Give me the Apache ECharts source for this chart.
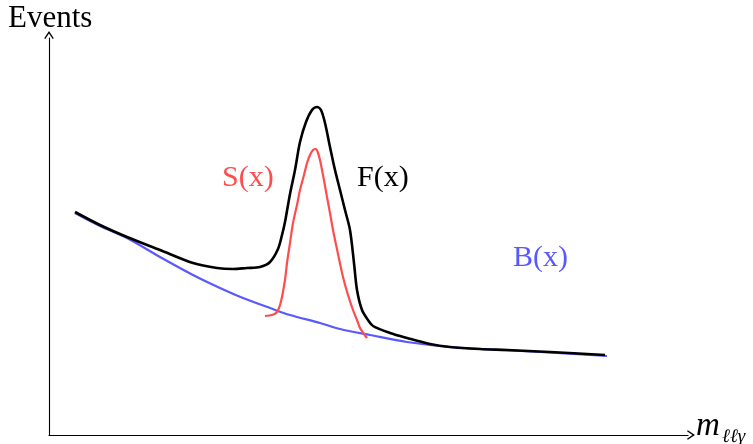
<!DOCTYPE html>
<html>
<head>
<meta charset="utf-8">
<script src="https://cdn.jsdelivr.net/npm/echarts@6/dist/echarts.min.js"></script>
<style>
  html, body { margin: 0; padding: 0; background: #fff; }
  #chart { width: 753px; height: 444px; }
</style>
</head>
<body>
<div id="chart"></div>
<script>
// F(x): full fit = background + signal
const fitX = [2.6, 5.1, 7.8, 11.1, 14.4, 16.8, 18.4, 19.8, 21.1, 22.1, 22.9, 23.3, 23.6, 24.1, 24.6, 25.1, 25.7, 26.3, 26.8, 27.2, 27.6, 28.1, 28.6, 29.1, 29.6, 30.1, 30.5, 30.8, 31.3, 31.9, 32.4, 34.1, 35.8, 38.1, 40.1, 43.1, 45.8, 50.1, 55.6]
const fitY = [22.3, 21.0, 19.8, 18.5, 17.2, 16.7, 16.6, 16.7, 16.8, 17.3, 18.6, 20.0, 21.3, 24.1, 26.5, 29.3, 31.3, 32.5, 32.8, 32.5, 31.2, 28.8, 26.5, 24.5, 22.5, 20.5, 17.2, 14.5, 12.5, 11.5, 10.9, 10.2, 9.7, 9.1, 8.8, 8.6, 8.5, 8.3, 8.0]

// S(x): signal peak
const sigX = [21.6, 22.3, 22.8, 23.1, 23.3, 23.6, 23.8, 24.1, 24.4, 24.8, 25.1, 25.5, 25.8, 26.1, 26.4, 26.7, 26.9, 27.1, 27.4, 27.8, 28.1, 28.4, 28.9, 29.4, 29.9, 30.4, 30.8, 31.1, 31.5, 31.8]
const sigY = [11.9, 12.0, 12.3, 13.0, 13.8, 15.5, 17.2, 19.2, 21.2, 23.0, 24.5, 26.0, 27.2, 28.0, 28.5, 28.6, 28.2, 27.5, 26.0, 23.8, 22.2, 20.5, 18.1, 15.8, 14.0, 12.5, 11.5, 10.7, 10.1, 9.7]

// B(x): falling background
const bkgX = [2.6, 5.1, 7.8, 11.1, 14.4, 17.1, 19.4, 22.1, 24.1, 27.1, 29.1, 32.1, 35.8, 40.1, 45.1, 49.1, 55.8]
const bkgY = [22.2, 20.9, 19.7, 17.8, 16.0, 14.7, 13.7, 12.7, 12.0, 11.2, 10.6, 10.0, 9.3, 8.8, 8.5, 8.3, 7.9]

const xMax = 63.9
const yMax = 39.7

const zip = (xs, ys) => xs.map((x, i) => [x, ys[i]])

const serif = '"Liberation Serif", "DejaVu Serif", serif'
// open chevron, like the tikz "->" tip
const arrowHead = 'path://M0,9 L6,0 L12,9 L10.6,10 L6,3.2 L1.4,10 Z'

const chart = echarts.init(document.getElementById('chart'))

const axisCommon = {
  type: 'value',
  min: 0,
  axisLabel: { show: false },
  axisTick: { show: false },
  splitLine: { show: false },
  axisLine: {
    show: true,
    symbol: ['none', arrowHead],
    symbolSize: [12, 8],
    symbolOffset: [0, 3],
    lineStyle: { color: '#000', width: 1.1 }
  }
}

const lineSeries = (name, xs, ys, color, width) => ({
  name,
  type: 'line',
  data: zip(xs, ys),
  smooth: 0.3,
  showSymbol: false,
  lineStyle: { color, width }
})

chart.setOption({
  animation: false,
  grid: { left: 49, top: 38, width: 639, height: 397 },
  xAxis: Object.assign({}, axisCommon, { max: xMax }),
  yAxis: Object.assign({}, axisCommon, { max: yMax }),
  series: [
    lineSeries('B(x)', bkgX, bkgY, '#5959ff', 2.2),
    lineSeries('S(x)', sigX, sigY, '#ff4d4d', 2.2),
    lineSeries('F(x)', fitX, fitY, '#000', 2.6)
  ],
  graphic: [
    { type: 'text', left: 8, top: 3, style: { text: 'Events', font: '31px ' + serif, fill: '#000' } },
    { type: 'text', left: 696, top: 410, style: { text: 'm', font: 'italic 33px ' + serif, fill: '#000' } },
    { type: 'text', left: 722, top: 427, style: { text: 'ℓℓγ', font: 'italic 19px ' + serif, fill: '#000' } },
    { type: 'text', left: 222, top: 163, style: { text: 'S(x)', font: '30px ' + serif, fill: '#ff4d4d' } },
    { type: 'text', left: 357, top: 163, style: { text: 'F(x)', font: '30px ' + serif, fill: '#000' } },
    { type: 'text', left: 513, top: 243, style: { text: 'B(x)', font: '30px ' + serif, fill: '#5959ff' } }
  ]
})
</script>
</body>
</html>
